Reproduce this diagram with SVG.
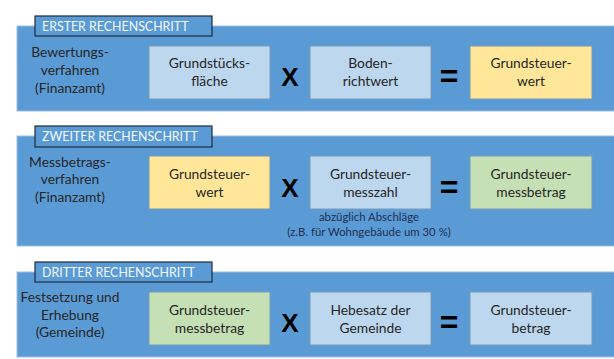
<svg xmlns="http://www.w3.org/2000/svg" width="614" height="359" viewBox="0 0 614 359">
<style>
.panel{fill:#5b9bd5;stroke:#9dbde3;stroke-width:1}
.tab{fill:#5b9bd5;stroke:#1e2a3a;stroke-width:1.2}
.tabt{font-family:Lato,"Liberation Sans",sans-serif;font-size:12.4px;fill:#f4f8fc}
.box{stroke:#7a99b8;stroke-width:1}
.blue{fill:#bdd7ee}
.yellow{fill:#ffe699}
.green{fill:#c5e0b4}
.t{font-family:Lato,"Liberation Sans",sans-serif;font-size:13.8px;fill:#262626;text-anchor:middle}
.sub{font-family:Lato,"Liberation Sans",sans-serif;font-size:11.4px;fill:#1f3050;text-anchor:middle}
.op{font-family:"Liberation Sans",Arial,sans-serif;font-weight:bold;fill:#000;text-anchor:middle}
</style>
<rect width="614" height="359" fill="#ffffff"/>

<g id="step1">
<rect class="panel" x="17" y="26" width="600" height="85"/>
<rect class="tab" x="35" y="16" width="177" height="20"/>
<text class="tabt" x="42" y="30.5">ERSTER RECHENSCHRITT</text>
<text class="t" x="70" y="56.5">Bewertungs-</text>
<text class="t" x="70" y="74.5">verfahren</text>
<text class="t" x="70" y="92.5">(Finanzamt)</text>
</g>
<g id="n1a"><rect class="box blue" x="149" y="46" width="121" height="53"/><text class="t" x="209.5" y="67.5">Grundstücks-</text><text class="t" x="209.5" y="85.5">fläche</text></g>
<g id="n1x"><text class="op" x="290" y="85.5" font-size="26">X</text></g>
<g id="n1b"><rect class="box blue" x="310" y="46" width="121" height="53"/><text class="t" x="370.5" y="67.5">Boden-</text><text class="t" x="370.5" y="85.5">richtwert</text></g>
<g id="n1eq"><text class="op" x="449" y="87" font-size="32">=</text></g>
<g id="n1c"><rect class="box yellow" x="470" y="46" width="122" height="53"/><text class="t" x="531" y="67.5">Grundsteuer-</text><text class="t" x="531" y="85.5">wert</text></g>

<g id="step2">
<rect class="panel" x="17" y="136" width="600" height="110"/>
<rect class="tab" x="35" y="126" width="177" height="21"/>
<text class="tabt" x="42" y="141">ZWEITER RECHENSCHRITT</text>
<text class="t" x="70" y="166.5">Messbetrags-</text>
<text class="t" x="70" y="184">verfahren</text>
<text class="t" x="70" y="201.5">(Finanzamt)</text>
</g>
<g id="n2a"><rect class="box yellow" x="149" y="156" width="121" height="53"/><text class="t" x="209.5" y="178.5">Grundsteuer-</text><text class="t" x="209.5" y="196.5">wert</text></g>
<g id="n2x"><text class="op" x="290" y="196.5" font-size="26">X</text></g>
<g id="n2b"><rect class="box blue" x="310" y="156" width="121" height="53"/><text class="t" x="370.5" y="178.5">Grundsteuer-</text><text class="t" x="370.5" y="196.5">messzahl</text>
<text class="sub" x="369" y="221">abzüglich Abschläge</text>
<text class="sub" x="369" y="236">(z.B. für Wohngebäude um 30 %)</text></g>
<g id="n2eq"><text class="op" x="449" y="198" font-size="32">=</text></g>
<g id="n2c"><rect class="box green" x="470" y="156" width="122" height="53"/><text class="t" x="531" y="178.5">Grundsteuer-</text><text class="t" x="531" y="196.5">messbetrag</text></g>

<g id="step3">
<rect class="panel" x="17" y="272" width="600" height="85"/>
<rect class="tab" x="35" y="262" width="177" height="20"/>
<text class="tabt" x="42" y="276.5">DRITTER RECHENSCHRITT</text>
<text class="t" x="70" y="301.5">Festsetzung und</text>
<text class="t" x="70" y="319.5">Erhebung</text>
<text class="t" x="70" y="336.5">(Gemeinde)</text>
</g>
<g id="n3a"><rect class="box green" x="149" y="292" width="121" height="53"/><text class="t" x="209.5" y="314.5">Grundsteuer-</text><text class="t" x="209.5" y="332.5">messbetrag</text></g>
<g id="n3x"><text class="op" x="290" y="331.5" font-size="26">X</text></g>
<g id="n3b"><rect class="box blue" x="310" y="292" width="121" height="53"/><text class="t" x="370.5" y="314.5">Hebesatz der</text><text class="t" x="370.5" y="332.5">Gemeinde</text></g>
<g id="n3eq"><text class="op" x="449" y="333" font-size="32">=</text></g>
<g id="n3c"><rect class="box blue" x="470" y="292" width="122" height="53"/><text class="t" x="531" y="314.5">Grundsteuer-</text><text class="t" x="531" y="332.5">betrag</text></g>

<g id="connectors"></g>
</svg>
